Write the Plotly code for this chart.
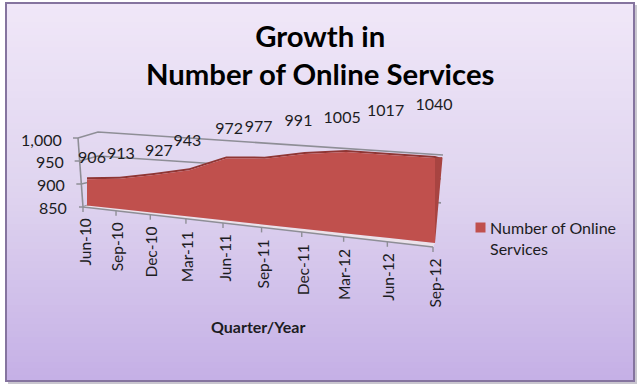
import numpy as np
import plotly.graph_objects as go

quarters = ["Jun-10", "Sep-10", "Dec-10", "Mar-11", "Jun-11", "Sep-11", "Dec-11", "Mar-12", "Jun-12", "Sep-12"]
services = [906, 913, 927, 943, 972, 977, 991, 1005, 1017, 1040]
y_ticks = [850, 900, 950, 1000]
y_tick_text = ["850", "900", "950", "1,000"]
series_name = "Number of Online<br>Services"
title_text = "Growth in<br>Number of Online Services"
x_title = "Quarter/Year"

FONT = "Lato"
RED, RED_DARK, GREY, INK = "#c0504d", "#8f3634", "#8e8e96", "#1c1c22"
AXIS_MIN, AXIS_MAX = 850, 1000
LABEL_LIFT = [20, 24, 23, 28, 28, 31, 32, 33, 43, 52]
LABEL_SHIFT = [5, 1, 5, -2, 3, -6, -6, -4, -4, -1]


# 3-D projection of the chart box onto the picture
def px(i, start=87.0, end=435.0, k=1.2):
    t = np.asarray(i, float) / (len(quarters) - 1)
    return start + (end - start) * t / (t + (1 - t) * k)


def front_y(x, v):
    x = np.asarray(x, float)
    base = 205.5 + (x - 87) * 37.5 / 348
    scale = 0.47 + (x - 87) * 0.097 / 348
    return base - (np.asarray(v, float) - AXIS_MIN) * scale


def back_y(x, v):
    return 132 + (AXIS_MAX - v) * 0.48 + (np.asarray(x, float) - 98) * 0.0667


idx = np.arange(len(quarters))
fx = px(idx)
clipped = np.minimum(services, AXIS_MAX)
top = front_y(fx, clipped)
bottom = front_y(fx, AXIS_MIN)
tick_x = px(idx, 83, 433)
axis_y = 207 + (tick_x - 83) * 40 / 350

fig = go.Figure()

# chart-area gradient
ys = np.linspace(3, 381, 61)
fig.add_trace(go.Heatmap(
    x=[6, 634], y=ys, z=[[v] for v in np.linspace(0, 1, 60)],
    colorscale=[[0, "#f0e7f8"], [0.5, "#dfd4ef"], [1, "#c5b0e6"]],
    showscale=False, hoverinfo="skip"))


def line(x, y, color=GREY, width=1.6):
    fig.add_trace(go.Scatter(x=list(x), y=list(y), mode="lines", showlegend=False, hoverinfo="skip",
                             line=dict(color=color, width=width)))


# back wall gridlines and left wall
for v in y_ticks[1:]:
    xf = 78 + (AXIS_MAX - v) * 5 / 150
    yf = 138 + (AXIS_MAX - v) * 69 / 150
    end = 443 if v == AXIS_MAX else 441
    line([xf - 5, xf, 98, end], [yf, yf, back_y(98, v), back_y(end, v)])
line([78, 83], [138, 207])
line([83 - 4, 83, 91], [207, 207, 204])

# floor strip
fig.add_trace(go.Scatter(x=list(tick_x) + list(fx[::-1]), y=list(axis_y) + list(bottom[::-1]), fill="toself",
                         fillcolor="#ebe2ea", mode="none", showlegend=False, hoverinfo="skip"))
line(tick_x, axis_y)
for tx, ty in zip(tick_x, axis_y):
    line([tx, tx], [ty, ty + 5], width=1.4)

# darker top surface of the area, then the front face
fig.add_trace(go.Scatter(x=list(fx) + [442, 436] + list(fx[::-1] + 0), y=list(top - 2) + [158, 158] + list(top[::-1]),
                         fill="toself", fillcolor=RED_DARK, mode="none", showlegend=False, hoverinfo="skip"))
fig.add_trace(go.Scatter(x=[fx[-1], 442.5, 442, fx[-1]], y=[bottom[-1], top[-1], top[-1] - 1, top[-1]],
                         fill="toself", fillcolor="#a84441", mode="none", showlegend=False, hoverinfo="skip"))
fig.add_trace(go.Scatter(x=list(fx) + list(fx[::-1]), y=list(top) + list(bottom[::-1]), fill="toself",
                         fillcolor=RED, mode="none", name="Number of Online Services", showlegend=False,
                         text=quarters, hoverinfo="skip"))

# data labels
fig.add_trace(go.Scatter(
    x=fx + np.array(LABEL_SHIFT), y=top - np.array(LABEL_LIFT), mode="text",
    text=[str(v) for v in services], textposition="middle center",
    textfont=dict(family=FONT, size=16, color=INK), showlegend=False, hoverinfo="skip"))

# legend swatch
fig.add_trace(go.Scatter(x=[480.5], y=[227.5], mode="markers", showlegend=False, hoverinfo="skip",
                         marker=dict(symbol="square", size=10, color=RED)))

ann = []
for q, tx, ty in zip(quarters, tick_x, axis_y):
    ann.append(dict(x=tx + 1, y=ty + 10, text=q, textangle=-90, xanchor="center", yanchor="top",
                    font=dict(family=FONT, size=15.5, color=INK)))
for v, t in zip(y_ticks, y_tick_text):
    yy = 207 - (v - AXIS_MIN) * 68 / 150
    ann.append(dict(x=69 - (v - AXIS_MIN) * 5 / 150, y=yy, text=t, xanchor="right", yanchor="middle",
                    font=dict(family=FONT, size=16, color=INK)))
ann.append(dict(x=487.5, y=238, text=series_name, xanchor="left", yanchor="middle", align="left",
                font=dict(family=FONT, size=16, color=INK)))
ann.append(dict(x=258, y=326, text="<b>%s</b>" % x_title, xanchor="center", yanchor="middle",
                font=dict(family=FONT, size=16, color=INK)))
ann.append(dict(x=320, y=54, text="<b>%s</b>" % title_text, xanchor="center", yanchor="middle",
                font=dict(family=FONT, size=29.3, color="#000000")))
for a in ann:
    a.update(showarrow=False, xref="x", yref="y")

fig.update_layout(
    width=640, height=389, margin=dict(l=0, r=0, t=0, b=0),
    paper_bgcolor="white", plot_bgcolor="white", showlegend=False,
    annotations=ann,
    xaxis=dict(range=[0, 640], visible=False, fixedrange=True),
    yaxis=dict(range=[389, 0], visible=False, fixedrange=True),
    shapes=[
        dict(type="rect", x0=8, y0=5, x1=637, y1=384, layer="below", fillcolor="#c9c6cf", line_width=0),
        dict(type="rect", x0=6, y0=3, x1=634, y1=381, layer="above", line=dict(color="#85749f", width=2)),
    ],
)
fig.write_html("out.html", config={"displayModeBar": False},
               post_script="document.body.style.margin='0';document.body.style.overflow='hidden';")
